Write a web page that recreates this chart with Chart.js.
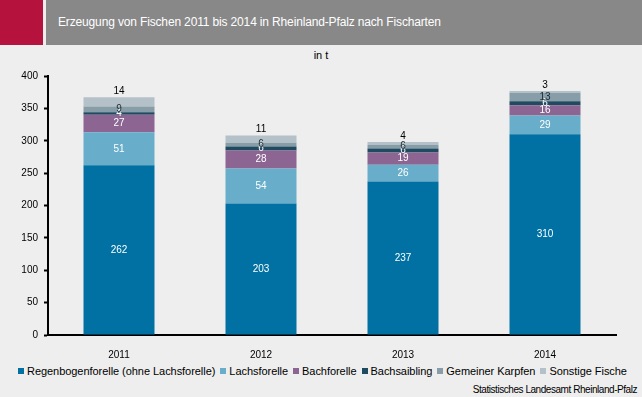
<!DOCTYPE html>
<html>
<head>
<meta charset="utf-8">
<script src="https://cdn.jsdelivr.net/npm/chart.js@4.4.1/dist/chart.umd.min.js"></script>
<style>
  body { margin: 0; width: 642px; height: 397px; background: #edeeed; font-family: "Liberation Sans", Arial, sans-serif; position: relative; overflow: hidden; }
  #rot { position: absolute; left: 0; top: 0; width: 43px; height: 45px; background: #b5123e; }
  #kopf { position: absolute; left: 46px; top: 0; width: 596px; height: 45px; background: #888888; color: #fff; font-size: 12px; line-height: 45px; padding-left: 12px; box-sizing: border-box; letter-spacing: -0.15px; }
  #einheit { position: absolute; left: 0; width: 642px; top: 49px; text-align: center; font-size: 11px; color: #000; }
  #box { position: absolute; left: 0; top: 45px; width: 642px; height: 318px; }
  #legende { position: absolute; left: 18px; top: 365px; font-size: 11px; color: #000; white-space: nowrap; letter-spacing: -0.05px; }
  #legende span { margin-right: 5px; }
  #legende i { display: inline-block; width: 6px; height: 6px; margin-right: 3px; vertical-align: 1px; }
  #quelle { position: absolute; right: 5px; top: 384px; font-size: 10px; color: #000; letter-spacing: -0.45px; }
</style>
</head>
<body>
<div id="rot"></div>
<div id="kopf">Erzeugung von Fischen 2011 bis 2014 in Rheinland-Pfalz nach Fischarten</div>
<div id="einheit">in t</div>
<div id="box"><canvas id="fischChart"></canvas></div>
<div id="legende"></div>
<div id="quelle">Statistisches Landesamt Rheinland-Pfalz</div>
<script>
const jahre = ["2011", "2012", "2013", "2014"];
const fischarten = ["Regenbogenforelle (ohne Lachsforelle)", "Lachsforelle", "Bachforelle", "Bachsaibling", "Gemeiner Karpfen", "Sonstige Fische"];
const regenbogenforelle = [262, 203, 237, 310];
const lachsforelle = [51, 54, 26, 29];
const bachforelle = [27, 28, 19, 16];
const bachsaibling = [4, 6, 6, 6];
const karpfen = [9, 6, 6, 13];
const sonstige = [14, 11, 4, 3];
const yTicks = [0, 50, 100, 150, 200, 250, 300, 350, 400];

const farben = ["#0071a2", "#68aecb", "#8c6592", "#1f4a5f", "#879da8", "#b4c1c9"];
const labelFarben = ["#fff", "#fff", "#fff", "#fff", "#1a2a33", "#000"];
const werte = [regenbogenforelle, lachsforelle, bachforelle, bachsaibling, karpfen, sonstige];

// legende
const legende = document.getElementById("legende");
fischarten.forEach((name, i) => {
  legende.innerHTML += `<span><i style="background:${farben[i]}"></i>${name}</span>`;
});

// werte in die balken schreiben
const wertePlugin = {
  id: "werte",
  afterDatasetsDraw(chart) {
    const ctx = chart.ctx;
    ctx.save();
    ctx.font = "10px 'Liberation Sans', Arial, sans-serif";
    ctx.textAlign = "center";
    ctx.textBaseline = "middle";
    chart.data.datasets.forEach((ds, i) => {
      const meta = chart.getDatasetMeta(i);
      meta.data.forEach((bar, j) => {
        ctx.fillStyle = labelFarben[i];
        let y = (bar.y + bar.base) / 2;
        if (i === chart.data.datasets.length - 1) y = bar.y - 6;
        ctx.fillText(ds.data[j], bar.x, y);
      });
    });
    ctx.restore();
  }
};

new Chart(document.getElementById("fischChart"), {
  type: "bar",
  data: {
    labels: jahre,
    datasets: fischarten.map((name, i) => ({
      label: name,
      data: werte[i],
      backgroundColor: farben[i],
      borderWidth: 0,
      barPercentage: 0.5,
      categoryPercentage: 1
    }))
  },
  options: {
    responsive: true,
    maintainAspectRatio: false,
    animation: false,
    layout: { padding: { left: 0, right: 26, top: 31, bottom: 0 } },
    plugins: { legend: { display: false }, tooltip: { enabled: false } },
    scales: {
      x: {
        stacked: true,
        grid: { display: false },
        border: { color: "#000", width: 2 },
        ticks: { color: "#000", font: { family: "'Liberation Sans', Arial, sans-serif", size: 10 }, padding: 6 },
        afterFit: s => { s.height = 28; }
      },
      y: {
        stacked: true,
        min: 0,
        max: 400,
        afterBuildTicks: s => { s.ticks = yTicks.map(v => ({ value: v })); },
        grid: { drawOnChartArea: false, drawTicks: true, tickLength: 4, color: "#000", tickWidth: 2 },
        border: { color: "#000", width: 2 },
        ticks: { color: "#000", font: { family: "'Liberation Sans', Arial, sans-serif", size: 10 }, padding: 6 },
        afterFit: s => { s.width = 48; }
      }
    }
  },
  plugins: [wertePlugin]
});
</script>
</body>
</html>
